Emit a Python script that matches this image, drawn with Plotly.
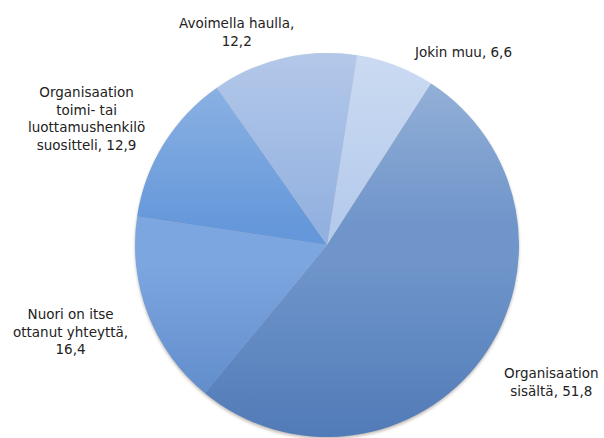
import base64
import plotly.graph_objects as go

# Source of recruited youth (%), listed clockwise from the top
categories = [
    "Jokin muu",
    "Organisaation<br>sisältä",
    "Nuori on itse<br>ottanut yhteyttä",
    "Organisaation<br>toimi- tai<br>luottamushenkilö<br>suositteli",
    "Avoimella haulla",
]
values = [6.6, 51.8, 16.4, 12.9, 12.2]
colors = ["#b5cbec", "#6f95ca", "#7ca6e0", "#6598da", "#93b1e0"]

W, H = 604, 438
# pie box in pixels
PX0, PY0, D = 135, 53, 384


def fmt(v):
    return f"{v:.1f}".replace(".", ",")


def svg_uri(svg):
    return "data:image/svg+xml;base64," + base64.b64encode(svg.encode()).decode()


# soft vertical shading laid over the pie
shade_svg = f"""<svg xmlns="http://www.w3.org/2000/svg" width="{D}" height="{D}" viewBox="0 0 {D} {D}">
<defs><linearGradient id="g" x1="0" y1="0" x2="0" y2="1">
<stop offset="0" stop-color="#ffffff" stop-opacity="0.30"/>
<stop offset="0.45" stop-color="#ffffff" stop-opacity="0"/>
<stop offset="0.55" stop-color="#1c4c96" stop-opacity="0"/>
<stop offset="1" stop-color="#1c4c96" stop-opacity="0.36"/>
</linearGradient></defs>
<circle cx="{D/2}" cy="{D/2}" r="{D/2}" fill="url(#g)"/>
</svg>"""

# faint drop shadow under the pie
shadow_svg = f"""<svg xmlns="http://www.w3.org/2000/svg" width="{D+10}" height="{D+10}" viewBox="0 0 {D+10} {D+10}">
<defs><filter id="b"><feGaussianBlur stdDeviation="1.5"/></filter></defs>
<circle cx="{D/2+5}" cy="{D/2+7}" r="{D/2}" fill="#7a6a60" fill-opacity="0.45" filter="url(#b)"/>
</svg>"""

fig = go.Figure(
    go.Pie(
        labels=categories,
        values=values,
        sort=False,
        direction="clockwise",
        rotation=9,
        marker=dict(colors=colors, line=dict(width=0)),
        textinfo="none",
        hoverinfo="label+value",
        showlegend=False,
        domain=dict(x=[PX0 / W, (PX0 + D) / W], y=[(H - PY0 - D) / H, (H - PY0) / H]),
    )
)

fig.add_layout_image(
    source=svg_uri(shadow_svg),
    xref="paper", yref="paper",
    x=(PX0 - 5) / W, y=1 - (PY0 - 5) / H,
    sizex=(D + 10) / W, sizey=(D + 10) / H,
    xanchor="left", yanchor="top",
    sizing="stretch", layer="below",
)
fig.add_layout_image(
    source=svg_uri(shade_svg),
    xref="paper", yref="paper",
    x=PX0 / W, y=1 - PY0 / H,
    sizex=D / W, sizey=D / H,
    xanchor="left", yanchor="top",
    sizing="stretch", layer="above",
)

# Label placement (paper coordinates, centre of each text block)
label_pos = [
    (463, 52, "{0}, {1}"),
    (551, 382, "{0}, {1}"),
    (70, 331, "{0},<br>{1}"),
    (86, 118, "{0}, {1}"),
    (236, 32, "{0},<br>{1}"),
]
for cat, val, (px, py, tpl) in zip(categories, values, label_pos):
    fig.add_annotation(
        x=px / W,
        y=1 - py / H,
        xref="paper",
        yref="paper",
        text=tpl.format(cat, fmt(val)),
        showarrow=False,
        xanchor="center",
        yanchor="middle",
        align="center",
        font=dict(family="DejaVu Sans", size=13.5, color="#222222"),
    )

fig.update_layout(
    width=W,
    height=H,
    margin=dict(l=0, r=0, t=0, b=0),
    paper_bgcolor="white",
    plot_bgcolor="rgba(0,0,0,0)",
)

fig.write_html("out.html")
